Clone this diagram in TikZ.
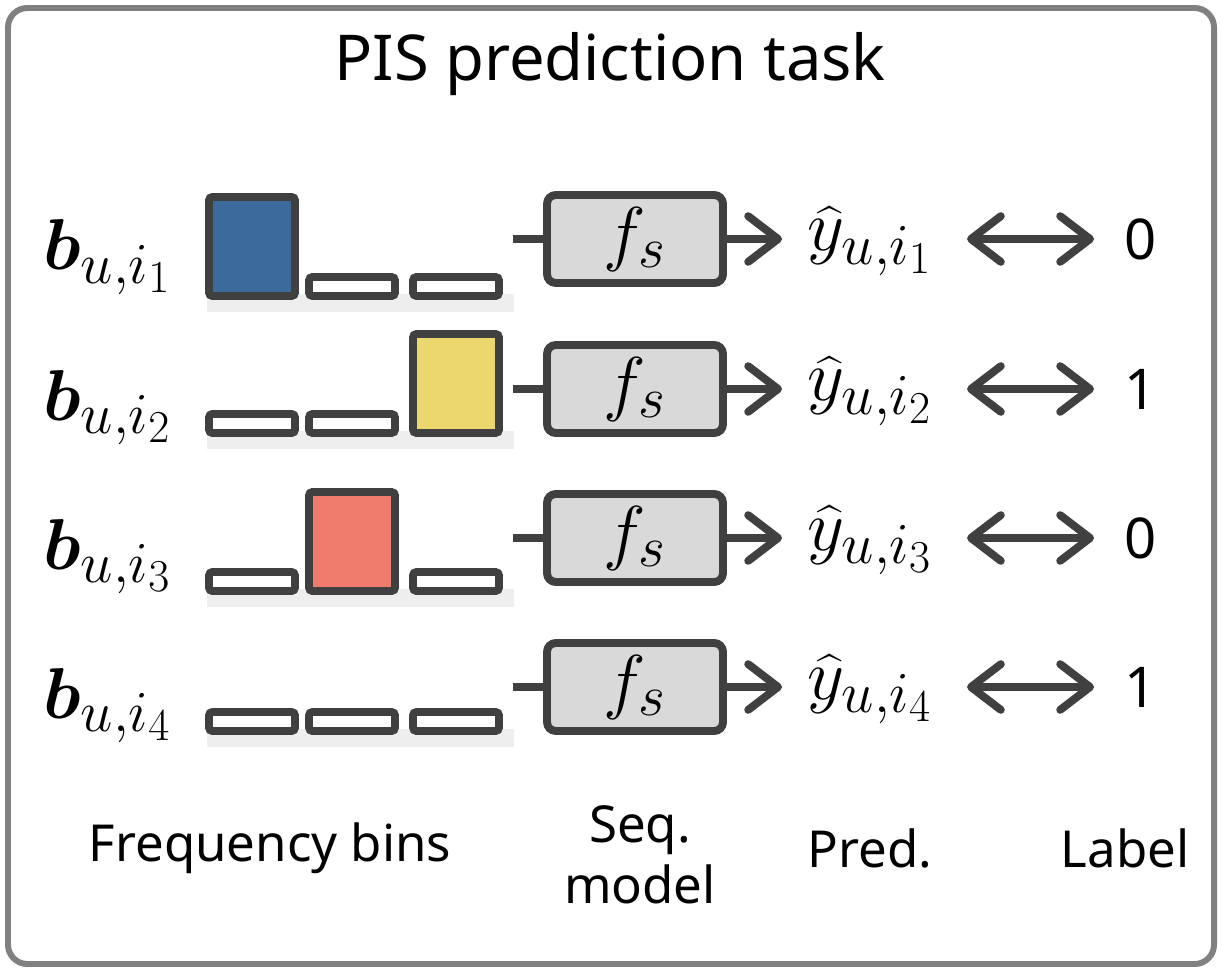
\RequirePackage{fix-cm}
\documentclass[tikz,border=0pt]{standalone}
\usepackage{fontspec}
\setmainfont{Noto Sans}
\usepackage{amsmath,bm}
\usetikzlibrary{arrows.meta}

\definecolor{framegray}{HTML}{808080}
\definecolor{linegray}{HTML}{404040}
\definecolor{boxgray}{HTML}{D9D9D9}
\definecolor{shadegray}{HTML}{EEEEEE}
\definecolor{binblue}{HTML}{3D6A9C}
\definecolor{binyellow}{HTML}{ECD76E}
\definecolor{binred}{HTML}{F07D6B}

\DeclareMathSizes{41}{41}{33}{26}
\newcommand{\mathsz}{\fontsize{41}{44}\selectfont}
\newcommand{\textsz}{\fontsize{29}{35}\selectfont}

\begin{document}
\begin{tikzpicture}
  [x=0.02cm,y=-0.02cm,every node/.style={inner sep=0pt},
   frame/.style={draw=framegray,line width=3.4pt,rounded corners=11pt},
   binbox/.style={draw=linegray,line width=4.5pt,rounded corners=2pt},
   modelbox/.style={draw=linegray,fill=boxgray,line width=4.5pt,rounded corners=5pt,
     minimum width=3.52cm,minimum height=1.76cm,font=\mathsz},
   conn/.style={draw=linegray,line width=4.5pt},
   barb/.tip={Straight Barb[length=17pt,width=26pt,line cap=round,line join=round]},
   caption/.style={font=\textsz,align=center}]
  \useasboundingbox (0,0) rectangle (1222,972);
  \draw[frame] (8,8) rectangle (1214,964);

  \node (title) at (610,64) {\fontsize{36}{42}\selectfont PIS prediction task};

  % rows: number / center y / bin bottom / tall bin / colour / label
  \foreach \k/\yr/\yb/\t/\c/\v in {1/239/300/1/binblue/0,2/389/437/3/binyellow/1,
                                   3/538/595/2/binred/0,4/687/735/0/white/1} {
    \fill[shadegray] (207,\yb-6) rectangle (514,\yb+12);
    \foreach \j/\xc in {1/252,2/352,3/456} {
      \ifnum\j=\t
        \draw[binbox,fill=\c] (\xc-43,\yb-4) rectangle (\xc+43,\yb-103);
      \else
        \draw[binbox,fill=white] (\xc-43,\yb-4) rectangle (\xc+43,\yb-23);
      \fi
    }
    \node[anchor=base west] (b\k) at (43,\yr+31) {\mathsz$\bm{b}_{u,i_{\k}}$};
    \coordinate (s\k) at (513,\yr);
    \node[modelbox] (f\k) at (635,\yr) {$f_s$};
    \node[anchor=base west] (y\k) at (807,\yr+12) {\mathsz$\widehat{y}_{u,i_{\k}}$};
    \node (l\k) at (1141,\yr) {\fontsize{32}{36}\selectfont\v};
    \coordinate (a\k) at (782,\yr);
    \coordinate (c\k) at (967,\yr);
    \coordinate (d\k) at (1094,\yr);
    \draw[conn] (s\k) -- (f\k);
    \draw[conn,-barb] (f\k) -- (a\k);
    \draw[conn,barb-barb] (c\k) -- (d\k);
  }

  \node[caption] (bins) at (270,848) {Frequency bins};
  \node[caption] (seq) at (640,855) {Seq.\\model};
  \node[caption] (pred) at (870,848) {Pred.};
  \node[caption] (lab) at (1125,848) {Label};
\end{tikzpicture}
\end{document}
